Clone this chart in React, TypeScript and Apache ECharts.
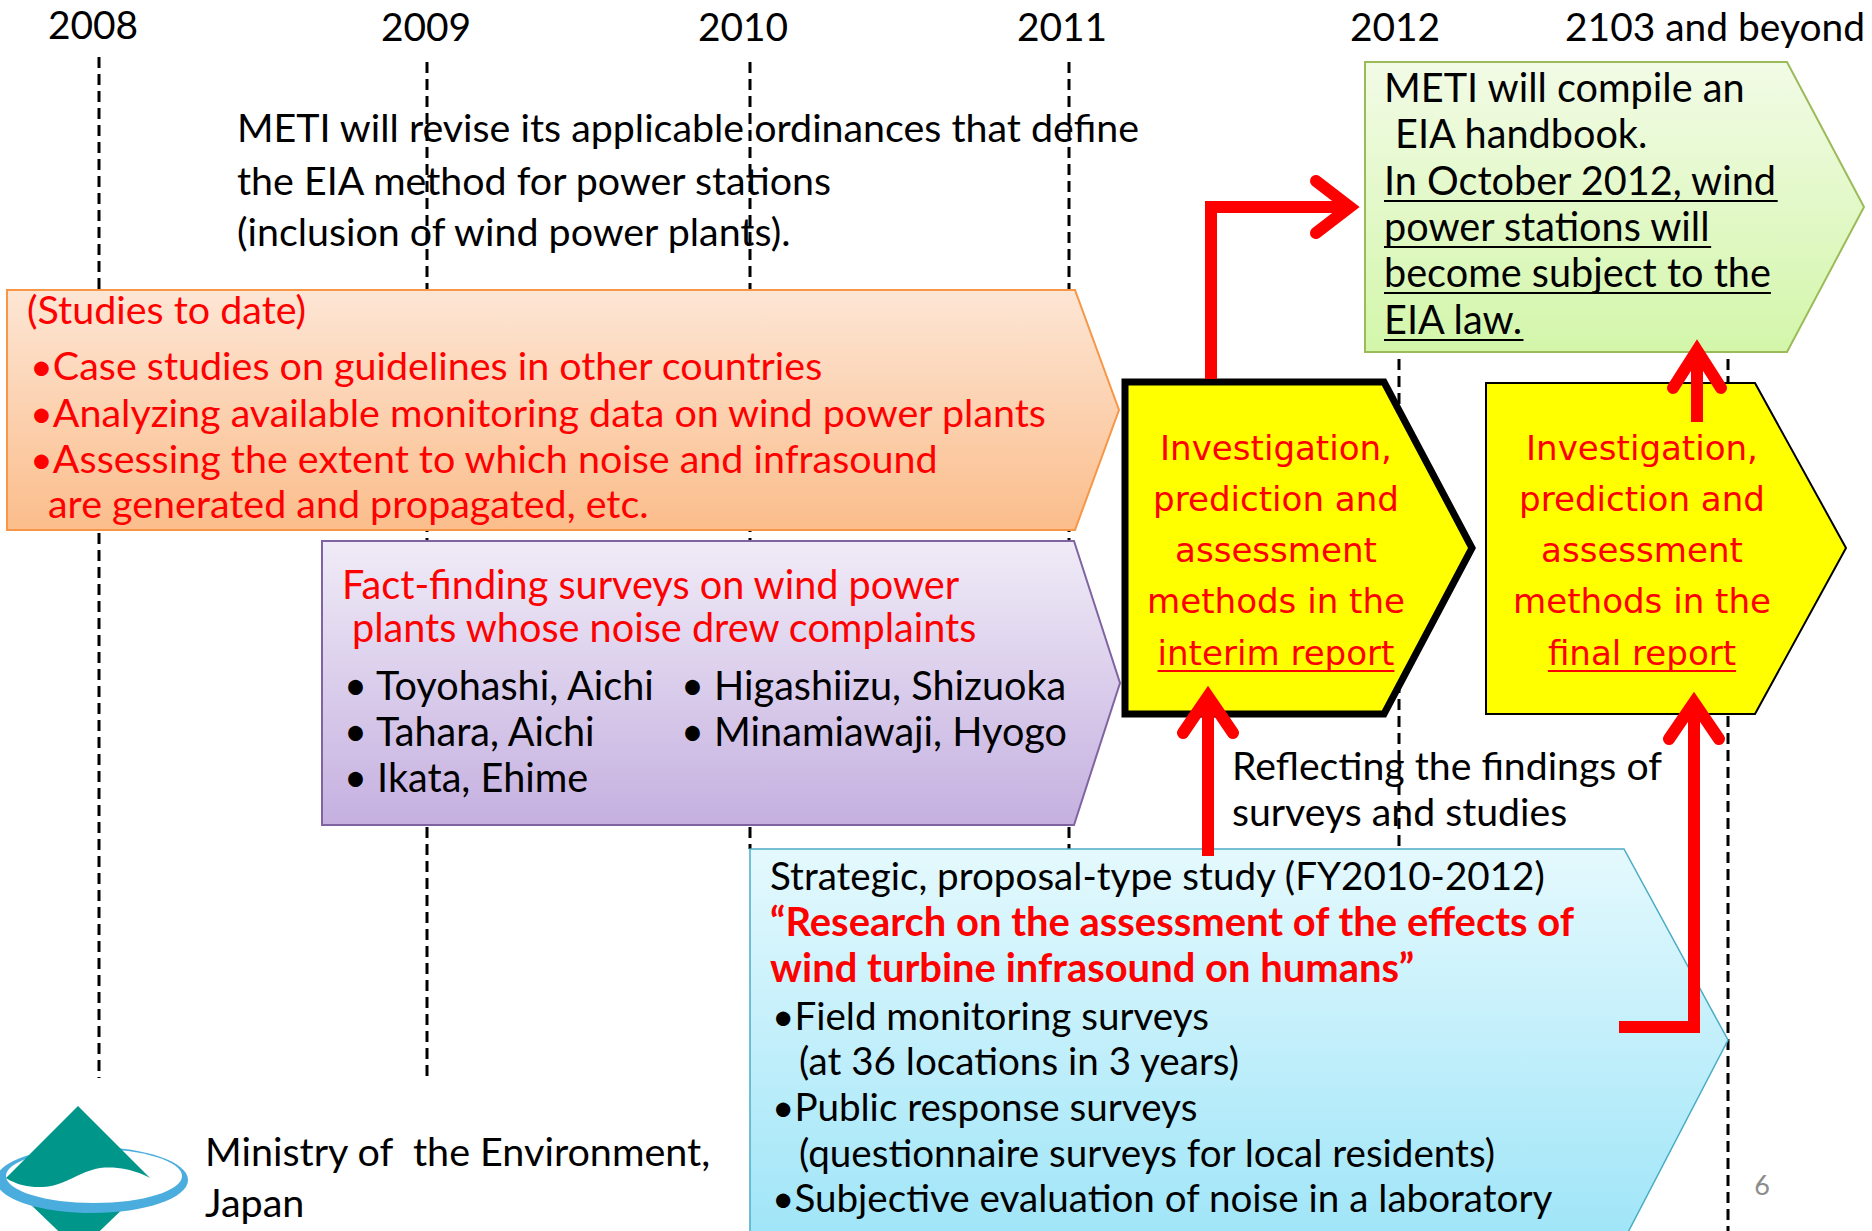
import React, { useEffect, useRef } from "react";
import * as echarts from "echarts";

// ---------- content ----------
const years = ["2008", "2009", "2010", "2011", "2012", "2103 and beyond"];
const ordinanceLines = [
  "METI will revise its applicable ordinances that define",
  "the EIA method for power stations",
  "(inclusion of wind power plants).",
];
const studiesTitle = "(Studies to date)";
const studiesLines = [
  "•Case studies on guidelines in other countries",
  "•Analyzing available monitoring data on wind power plants",
  "•Assessing the extent to which noise and infrasound",
  "are generated and propagated, etc.",
];
const factTitle = ["Fact-finding surveys on wind power", "plants whose noise drew complaints"];
const sitesLeft = ["• Toyohashi, Aichi", "• Tahara, Aichi", "• Ikata, Ehime"];
const sitesRight = ["• Higashiizu, Shizuoka", "• Minamiawaji, Hyogo"];
const handbookLines = ["METI will compile an", "EIA handbook."];
const eiaLawLines = ["In October 2012, wind", "power stations will", "become subject to the", "EIA law."];
const methodLines = ["Investigation,", "prediction and", "assessment", "methods in the"];
const reportNames = ["interim report", "final report"];
const studyTitle = "Strategic, proposal-type study (FY2010-2012)";
const researchLines = ["“Research on the assessment of the effects of", "wind turbine infrasound on humans”"];
const studyItems = [
  "•Field monitoring surveys",
  "(at 36 locations in 3 years)",
  "•Public response surveys",
  "(questionnaire surveys for local residents)",
  "•Subjective evaluation of noise in a laboratory",
];
const reflectingLines = ["Reflecting the findings of", "surveys and studies"];
const ministryLines = ["Ministry of  the Environment,", "Japan"];
const pageNumber = "6";

// ---------- layout / style ----------
const W = 1872;
const H = 1231;
const RED = "#ff0000";
const FONT_MAIN = "Lato";
const FONT_BOX = "DejaVu Sans";
const CENTRAL: Record<string, number> = { Lato: 0.387, "DejaVu Sans": 0.346 };

const yearX = [93, 426, 743, 1062, 1395, 1715];
const yearBase = [39, 41, 41, 41, 41, 41];
const dashX = [99, 427, 750, 1069, 1399, 1728];
const dashY = [
  [57, 1078],
  [62, 1080],
  [62, 849],
  [62, 849],
  [70, 849],
  [70, 1231],
];

let measureCtx: CanvasRenderingContext2D | null = null;
function textWidth(text: string, size: number, family: string, weight = "normal") {
  if (!measureCtx) measureCtx = document.createElement("canvas").getContext("2d");
  if (!measureCtx) return text.length * size * 0.5;
  measureCtx.font = `${weight} ${size}px "${family}"`;
  return measureCtx.measureText(text).width;
}
function fitSize(text: string, width: number, family: string, weight = "normal") {
  return (100 * width) / textWidth(text, 100, family, weight);
}

type TOpts = { family?: string; weight?: string; fill?: string; align?: string };
function T(text: string, x: number, baseline: number, size: number, o: TOpts = {}) {
  const family = o.family || FONT_MAIN;
  const align = o.align || "left";
  return {
    type: "text",
    x,
    y: baseline - (CENTRAL[family] ?? 0.38) * size,
    silent: true,
    style: {
      text,
      fill: o.fill || "#000",
      fontSize: size,
      fontFamily: family,
      fontWeight: o.weight || "normal",
      textAlign: align,
      align,
      textVerticalAlign: "middle",
      verticalAlign: "middle",
    },
  };
}
function L(x1: number, y1: number, x2: number, y2: number, stroke: string, lineWidth: number, dash?: number[]) {
  return {
    type: "line",
    silent: true,
    shape: { x1, y1, x2, y2 },
    style: { stroke, lineWidth, lineDash: dash || null },
  };
}
function pent(l: number, t: number, br: number, tipX: number, b: number, tipY: number) {
  return [
    [l, t],
    [br, t],
    [tipX, tipY],
    [br, b],
    [l, b],
  ];
}
function grad(c0: string, c1: string) {
  return new echarts.graphic.LinearGradient(0, 0, 0, 1, [
    { offset: 0, color: c0 },
    { offset: 1, color: c1 },
  ]);
}
function box(points: number[][], fill: any, stroke: string, lineWidth: number) {
  return {
    type: "polygon",
    silent: true,
    shape: { points },
    style: { fill, stroke, lineWidth, lineJoin: "miter" },
  };
}
function cubic(p0: number[], c1: number[], c2: number[], p1: number[], n = 12) {
  const pts: number[][] = [];
  for (let i = 1; i <= n; i++) {
    const t = i / n;
    const u = 1 - t;
    pts.push([
      u * u * u * p0[0] + 3 * u * u * t * c1[0] + 3 * u * t * t * c2[0] + t * t * t * p1[0],
      u * u * u * p0[1] + 3 * u * u * t * c1[1] + 3 * u * t * t * c2[1] + t * t * t * p1[1],
    ]);
  }
  return pts;
}

const ARROW_W = 12;
function arrow(stem: number[][], tip: number[], dir: "up" | "right", back: number, half: number) {
  const ext = ARROW_W / 2 / Math.sin(Math.atan2(half, back));
  let vertex: number[];
  let a1: number[];
  let a2: number[];
  if (dir === "up") {
    vertex = [tip[0], tip[1] + ext];
    a1 = [tip[0] - half, tip[1] + back];
    a2 = [tip[0] + half, tip[1] + back];
  } else {
    vertex = [tip[0] - ext, tip[1]];
    a1 = [tip[0] - back, tip[1] - half];
    a2 = [tip[0] - back, tip[1] + half];
  }
  const stemPts = stem.concat([vertex]);
  return [
    {
      type: "polyline",
      silent: true,
      shape: { points: stemPts },
      style: { stroke: RED, lineWidth: ARROW_W, fill: null, lineCap: "butt", lineJoin: "miter" },
    },
    {
      type: "polyline",
      silent: true,
      shape: { points: [a1, vertex, a2] },
      style: { stroke: RED, lineWidth: ARROW_W, fill: null, lineCap: "round", lineJoin: "miter" },
    },
  ];
}

function buildOption() {
  const els: any[] = [];

  // dashed year lines
  dashX.forEach((x, i) => els.push(L(x, dashY[i][0], x, dashY[i][1], "#000", 3, [11, 6])));

  // boxes
  els.push(box(pent(7, 290, 1075, 1119, 530, 410), grad("#fde6d5", "#fbbd8b"), "#f79646", 2));
  els.push(box(pent(322, 541, 1074, 1120, 825, 683), grad("#f0ebf7", "#c5b0e0"), "#8064a2", 2));
  els.push(box(pent(1365, 62, 1787, 1864, 352, 207), grad("#f2fbe6", "#d3f6aa"), "#9bbb59", 2));
  els.push(box(pent(750, 849, 1624, 1728, 1240, 1040), grad("#e4f9fd", "#9fe5f8"), "#4bacc6", 1.5));
  els.push(box(pent(1125, 382, 1384, 1472, 714, 548), "#ffff00", "#000", 7));
  els.push(box(pent(1486, 383, 1755, 1846, 714, 548), "#ffff00", "#000", 2));

  // logo
  els.push({
    type: "polygon",
    silent: true,
    shape: { points: [[26, 1200], [132, 1200], [79, 1251]] },
    style: { fill: "#00968a" },
  });
  els.push({ type: "ellipse", silent: true, shape: { cx: 92, cy: 1180, rx: 96, ry: 33 }, style: { fill: "#4badde" } });
  els.push({ type: "ellipse", silent: true, shape: { cx: 94, cy: 1176, rx: 88, ry: 27 }, style: { fill: "#ffffff" } });
  const leaf: number[][] = [[78, 1106], [150, 1178]];
  leaf.push(...cubic([150, 1178], [135, 1170], [118, 1166], [100, 1168]));
  leaf.push(...cubic([100, 1168], [80, 1171], [65, 1186], [43, 1187]));
  leaf.push(...cubic([43, 1187], [25, 1188], [12, 1182], [6, 1178]));
  els.push({ type: "polygon", silent: true, shape: { points: leaf }, style: { fill: "#00968a" } });

  // years
  const ySize = fitSize(years[5], 300, FONT_MAIN);
  years.forEach((y, i) => els.push(T(y, yearX[i], yearBase[i], ySize, { align: "center" })));

  // ordinance text
  const oSize = fitSize(ordinanceLines[0], 903, FONT_MAIN);
  [142, 195, 246].forEach((b, i) => els.push(T(ordinanceLines[i], 237, b, oSize)));

  // studies (orange)
  const sSize = fitSize(studiesLines[1], 1018, FONT_MAIN);
  els.push(T(studiesTitle, 27, 324, sSize, { fill: RED }));
  const sX = [30, 30, 30, 48];
  [380, 427, 473, 518].forEach((b, i) => els.push(T(studiesLines[i], sX[i], b, sSize, { fill: RED })));

  // fact-finding (purple)
  const fSize = fitSize(factTitle[1], 626, FONT_MAIN);
  els.push(T(factTitle[0], 342, 599, fSize, { fill: RED }));
  els.push(T(factTitle[1], 352, 642, fSize, { fill: RED }));
  [700, 746, 792].forEach((b, i) => els.push(T(sitesLeft[i], 344, b, fSize)));
  [700, 746].forEach((b, i) => els.push(T(sitesRight[i], 681, b, fSize)));

  // handbook (green)
  const gSize = fitSize(eiaLawLines[2], 387, FONT_MAIN);
  els.push(T(handbookLines[0], 1384, 102, gSize));
  els.push(T(handbookLines[1], 1395, 148, gSize));
  [195, 241, 287, 334].forEach((b, i) => {
    els.push(T(eiaLawLines[i], 1384, b, gSize));
    const w = textWidth(eiaLawLines[i], gSize, FONT_MAIN);
    els.push(L(1384, b + 6, 1384 + w, b + 6, "#000", 2));
  });

  // yellow boxes
  const ySz = fitSize(methodLines[3], 258, FONT_BOX);
  const yBases = [460, 511, 562, 613, 665];
  [1276, 1642].forEach((cx, k) => {
    methodLines.forEach((m, i) => els.push(T(m, cx, yBases[i], ySz, { family: FONT_BOX, fill: RED, align: "center" })));
    els.push(T(reportNames[k], cx, yBases[4], ySz, { family: FONT_BOX, fill: RED, align: "center" }));
    const w = textWidth(reportNames[k], ySz, FONT_BOX);
    els.push(L(cx - w / 2, yBases[4] + 6, cx + w / 2, yBases[4] + 6, RED, 2));
  });

  // strategic study (blue)
  const bSize = fitSize(studyTitle, 776, FONT_MAIN);
  const bBold = fitSize(researchLines[0], 805, FONT_MAIN, "bold");
  els.push(T(studyTitle, 770, 890, bSize));
  els.push(T(researchLines[0], 770, 936, bBold, { weight: "bold", fill: RED }));
  els.push(T(researchLines[1], 770, 982, bBold, { weight: "bold", fill: RED }));
  const iX = [772, 799, 772, 799, 772];
  [1030, 1075, 1121, 1167, 1212].forEach((b, i) => els.push(T(studyItems[i], iX[i], b, bSize)));

  // reflecting note
  const rSize = fitSize(reflectingLines[0], 430, FONT_MAIN);
  els.push(T(reflectingLines[0], 1232, 780, rSize));
  els.push(T(reflectingLines[1], 1232, 826, rSize));

  // ministry
  const mSize = fitSize(ministryLines[0], 507, FONT_MAIN);
  els.push(T(ministryLines[0], 205, 1166, mSize));
  els.push(T(ministryLines[1], 205, 1217, mSize));

  // page number
  els.push(T(pageNumber, 1762, 1195, 27, { fill: "#8c8c8c", align: "center" }));

  // arrows
  els.push(...arrow([[1211, 379], [1211, 207]], [1362, 207], "right", 46, 26));
  els.push(...arrow([[1208, 856]], [1208, 683], "up", 50, 25));
  els.push(...arrow([[1619, 1027], [1694, 1027]], [1694, 689], "up", 50, 25));
  els.push(...arrow([[1697, 422]], [1697, 336], "up", 52, 24));

  return {
    animation: false,
    backgroundColor: "#ffffff",
    graphic: { elements: els },
  };
}

export default function App() {
  const ref = useRef<HTMLDivElement>(null);
  useEffect(() => {
    document.body.style.margin = "0";
    document.body.style.overflow = "hidden";
    if (!ref.current) return;
    const chart = echarts.init(ref.current, null, { renderer: "svg", width: W, height: H });
    chart.setOption(buildOption() as any);
    return () => chart.dispose();
  }, []);
  return <div ref={ref} style={{ width: W, height: H, background: "#fff" }} />;
}
